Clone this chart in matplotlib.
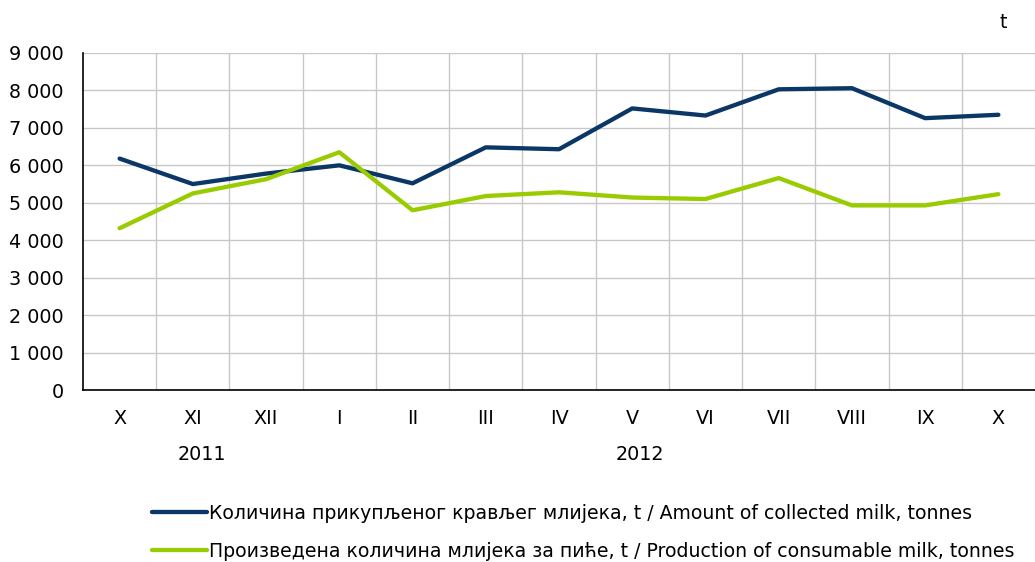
import matplotlib
matplotlib.use("Agg")
import matplotlib.pyplot as plt
from matplotlib.ticker import FuncFormatter, MultipleLocator

# Подписи месяцев и годы
months = ["X", "XI", "XII", "I", "II", "III", "IV", "V", "VI", "VII", "VIII", "IX", "X"]
years = ["2011", "2012"]

# Количина прикупљеног крављег млијека, t
collected = [6180, 5500, 5780, 6000, 5520, 6480, 6430, 7520, 7330, 8030, 8060, 7260, 7350]
# Произведена количина млијека за пиће, t
consumable = [4320, 5250, 5630, 6350, 4800, 5180, 5280, 5140, 5100, 5660, 4930, 4930, 5230]

labels = [
    "Количина прикупљеног крављег млијека, t / Amount of collected milk, tonnes",
    "Произведена количина млијека за пиће, t / Production of consumable milk, tonnes",
]

plt.rcParams["font.family"] = ["DejaVu Sans"]

fig = plt.figure(figsize=(10.35, 5.62), dpi=100)
ax = fig.add_axes([83 / 1035, 1 - 390 / 562, 1 - 83 / 1035, (390 - 53) / 562])

x = list(range(len(months)))
ax.plot(x, collected, color="#0a3766", linewidth=3.1, solid_capstyle="round", label=labels[0])
ax.plot(x, consumable, color="#99cc00", linewidth=3.1, solid_capstyle="round", label=labels[1])

ax.set_xlim(-0.5, len(months) - 0.5)
ax.set_ylim(0, 9000)
ax.yaxis.set_major_locator(MultipleLocator(1000))
ax.yaxis.set_major_formatter(FuncFormatter(lambda v, p: f"{int(v):,}".replace(",", " ")))
ax.set_xticks(x)
ax.set_xticklabels(months)
ax.set_xticks([i + 0.5 for i in x[:-1]], minor=True)

ax.grid(True, axis="y", which="major", color="#c8c8c8", linewidth=1)
ax.grid(True, axis="x", which="minor", color="#c8c8c8", linewidth=1)
ax.set_axisbelow(True)
ax.tick_params(axis="both", which="both", length=0, labelsize=13.8)
ax.tick_params(axis="y", pad=14)
ax.tick_params(axis="x", pad=14)

for side in ["top", "right"]:
    ax.spines[side].set_visible(False)
for side in ["left", "bottom"]:
    ax.spines[side].set_color("black")
    ax.spines[side].set_linewidth(1.2)

# Године испод мјесеци
ax.text(1.13, -0.19, years[0], transform=ax.get_xaxis_transform(), ha="center", va="center", fontsize=13.8)
ax.text(7.1, -0.19, years[1], transform=ax.get_xaxis_transform(), ha="center", va="center", fontsize=13.8)

fig.text(1003 / 1035, 1 - 22 / 562, "t", ha="center", va="center", fontsize=13.8)

fig.legend(
    loc="upper left",
    bbox_to_anchor=(135 / 1035, 1 - 487 / 562),
    frameon=False,
    handlelength=2.9,
    handletextpad=0.15,
    labelspacing=1.0,
    prop={"size": 13.55},
)

fig.savefig("out.png", dpi=100)
